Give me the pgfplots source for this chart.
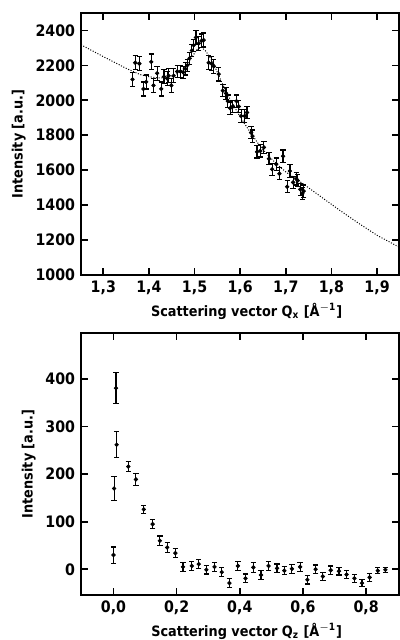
\documentclass[border=0pt]{standalone}
\usepackage{fontspec}
\setmainfont{DejaVu Sans Condensed}
\usepackage{pgfplots}
\pgfplotsset{compat=1.18}
\begin{document}
\begin{tikzpicture}
\useasboundingbox (-48.7pt,-377.2pt) rectangle (191.6pt,7.8pt);
\pgfplotsset{
  every axis/.append style={
    scale only axis, width=191.3pt, height=157.6pt,
    axis line style={line width=1.1pt},
    tick style={line width=1pt, black},
    tick align=inside, major tick length=4pt,
    /pgf/number format/assume math mode=true,
    font=\bfseries\fontsize{8.6}{9.5}\selectfont,
    ticklabel style={font=\bfseries\fontsize{9.5}{10}\selectfont},
    ylabel style={yshift=-1pt},
  },
  databar/.style={only marks, mark=*, mark size=1.1pt, black,
    error bars/.cd, y dir=both, y explicit, error mark=-,
    error bar style={line width=0.7pt},
    error mark options={line width=0.7pt, mark size=1.6pt, rotate=90}},
}
\begin{axis}[
  at={(0,0)}, anchor=north west,
  xmin=1.251, xmax=1.948, ymin=1000, ymax=2500,
  xtick={1.3,1.4,1.5,1.6,1.7,1.8,1.9},
  ytick={1000,1200,1400,1600,1800,2000,2200,2400},
  xticklabel style={/pgf/number format/.cd, fixed, fixed zerofill, precision=1, use comma},
  yticklabel style={/pgf/number format/.cd, fixed, precision=0, 1000 sep={}},
  xlabel={Scattering vector Q\textsubscript{x} [Å\textsuperscript{$-$1}]},
  ylabel={Intensity [a.u.]},
  xlabel style={yshift=2pt, xshift=4pt},
]
\addplot[black, densely dotted, line width=0.6pt] coordinates {
(1.251,2318) (1.30,2250) (1.35,2183) (1.38,2148) (1.40,2135) (1.42,2128)
(1.44,2130) (1.46,2148) (1.48,2190) (1.495,2250) (1.505,2290) (1.515,2305) (1.525,2280)
(1.54,2220) (1.56,2100) (1.58,1995) (1.60,1905) (1.62,1825) (1.64,1750)
(1.66,1688) (1.68,1635) (1.70,1590) (1.72,1553) (1.74,1518) (1.78,1442)
(1.82,1367) (1.86,1295) (1.90,1227) (1.948,1160)
};
\addplot[databar] table[x=x, y=y, y error=e] {
x y e
1.364 2120 40
1.370 2215 40
1.379 2210 40
1.388 2065 40
1.394 2105 40
1.405 2220 45
1.410 2085 40
1.418 2155 40
1.427 2065 40
1.433 2135 40
1.440 2125 40
1.443 2140 40
1.449 2085 40
1.454 2140 40
1.462 2165 35
1.469 2165 35
1.475 2160 35
1.480 2180 35
1.484 2200 35
1.489 2240 35
1.494 2285 35
1.498 2315 35
1.503 2360 40
1.509 2325 40
1.515 2340 40
1.520 2345 40
1.531 2215 40
1.537 2210 40
1.542 2195 40
1.553 2150 40
1.562 2055 35
1.569 2040 35
1.573 1995 35
1.578 1955 35
1.584 1965 35
1.592 1995 35
1.597 1965 35
1.602 1910 35
1.610 1910 35
1.615 1930 35
1.624 1815 35
1.627 1795 35
1.637 1705 35
1.644 1710 35
1.652 1730 35
1.663 1665 35
1.670 1605 35
1.679 1635 35
1.686 1580 35
1.694 1680 35
1.703 1505 35
1.709 1595 35
1.716 1530 35
1.723 1550 35
1.726 1540 35
1.732 1490 35
1.736 1465 35
1.739 1480 35
};
\end{axis}
\begin{axis}[
  at={(0,-192.5pt)}, anchor=north west,
  xmin=-0.103, xmax=0.904, ymin=-54, ymax=497,
  xtick={0,0.2,0.4,0.6,0.8},
  ytick={0,100,200,300,400},
  xticklabel style={/pgf/number format/.cd, fixed, fixed zerofill, precision=1, use comma},
  yticklabel style={/pgf/number format/.cd, fixed, precision=0, 1000 sep={}},
  xlabel={Scattering vector Q\textsubscript{z} [Å\textsuperscript{$-$1}]},
  ylabel={Intensity [a.u.]},
  xlabel style={yshift=2pt, xshift=4pt},
]
\addplot[databar] table[x=x, y=y, y error=e] {
x y e
0.000 30 17
0.002 170 25
0.008 381 32
0.010 262 27
0.047 216 10
0.071 189 12
0.096 126 9
0.124 95 10
0.147 60 10
0.170 46 10
0.196 34 10
0.220 5 10
0.248 7 10
0.270 11 10
0.294 -1 9
0.320 5 9
0.343 -6 9
0.367 -29 10
0.394 7 10
0.418 -19 9
0.443 4 10
0.467 -12 10
0.491 7 10
0.518 2 9
0.541 -3 8
0.565 1 9
0.591 5 9
0.614 -22 9
0.640 0 9
0.663 -15 8
0.688 -2 9
0.714 -4 8
0.738 -11 8
0.763 -19 8
0.787 -29 8
0.811 -17 8
0.837 -3 6
0.861 -1 5
};
\end{axis}
\end{tikzpicture}
\end{document}
